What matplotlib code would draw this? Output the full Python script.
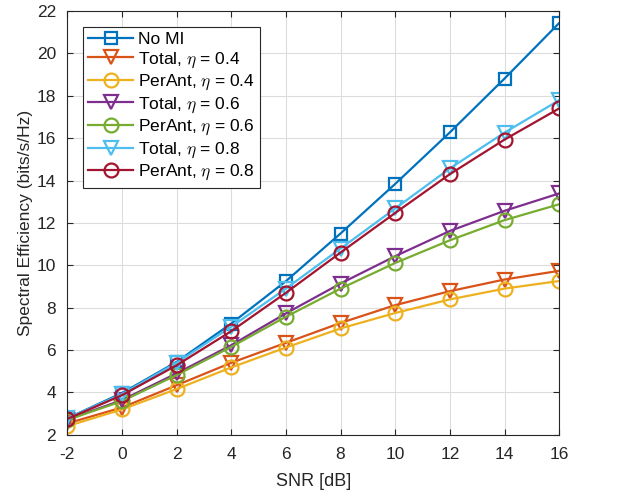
import numpy as np
import matplotlib
matplotlib.use("Agg")
import matplotlib.pyplot as plt

plt.rcParams['font.family'] = ['Liberation Sans', 'DejaVu Sans']
plt.rcParams['mathtext.fontset'] = 'cm'
plt.rcParams['axes.unicode_minus'] = False

# data
snr = [-2, 0, 2, 4, 6, 8, 10, 12, 14, 16]
no_mi = [2.78, 3.97, 5.44, 7.25, 9.25, 11.5, 13.84, 16.27, 18.81, 21.43]
total_04 = [2.54, 3.29, 4.34, 5.4, 6.34, 7.28, 8.12, 8.78, 9.33, 9.74]
perant_04 = [2.41, 3.2, 4.16, 5.18, 6.12, 7.02, 7.75, 8.39, 8.9, 9.26]
total_06 = [2.72, 3.64, 4.9, 6.23, 7.73, 9.14, 10.43, 11.62, 12.57, 13.39]
perant_06 = [2.7, 3.59, 4.82, 6.15, 7.57, 8.9, 10.11, 11.18, 12.13, 12.88]
total_08 = [2.78, 3.92, 5.4, 7.1, 8.9, 10.79, 12.68, 14.57, 16.26, 17.79]
perant_08 = [2.75, 3.87, 5.28, 6.89, 8.7, 10.6, 12.47, 14.3, 15.93, 17.4]

series = [
    (no_mi, 's', '#0072BD', 'No MI'),
    (total_04, 'v', '#D95319', r'Total, $\eta$ = 0.4'),
    (perant_04, 'o', '#EDB120', r'PerAnt, $\eta$ = 0.4'),
    (total_06, 'v', '#7E2F8E', r'Total, $\eta$ = 0.6'),
    (perant_06, 'o', '#77AC30', r'PerAnt, $\eta$ = 0.6'),
    (total_08, 'v', '#4DBEEE', r'Total, $\eta$ = 0.8'),
    (perant_08, 'o', '#A2142F', r'PerAnt, $\eta$ = 0.8'),
]

fig = plt.figure(figsize=(6.34, 4.97), dpi=100)
ax = fig.add_axes([0.106, 0.125, 0.776, 0.853])

for ys, mk, col, lab in series:
    ms = 8 if mk == 's' else 10
    ax.plot(snr, ys, marker=mk, color=col, lw=1.6, ms=ms, mew=1.6,
            mfc='none', label=lab)

ax.set_xlim(-2, 16)
ax.set_ylim(2, 22)
ax.set_xticks(np.arange(-2, 17, 2))
ax.set_yticks(np.arange(2, 23, 2))
ax.grid(True, color='#dcdcdc', lw=0.8)
ax.tick_params(direction='in', top=True, right=True, labelsize=12.5,
               colors='#262626', length=4)
ax.tick_params(axis='x', pad=9)
ax.tick_params(axis='y', pad=8)
for sp in ax.spines.values():
    sp.set_color('#262626')
    sp.set_linewidth(0.8)

ax.set_xlabel('SNR [dB]', fontsize=13, color='#262626', labelpad=8)
ax.set_ylabel('Spectral Efficiency (bits/s/Hz)', fontsize=12.5,
              color='#262626', labelpad=3)

leg = ax.legend(loc='upper left', fontsize=12.5, fancybox=False,
                edgecolor='#262626', framealpha=1, handlelength=2.6,
                borderpad=0.3, labelspacing=0.18, handletextpad=0.3,
                borderaxespad=0.9)
leg.get_frame().set_linewidth(0.8)

fig.savefig('out.png', dpi=100)
